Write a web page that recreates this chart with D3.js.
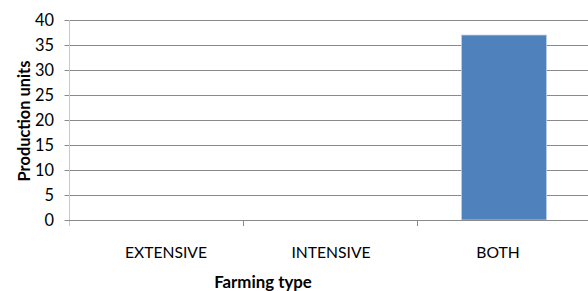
<!DOCTYPE html>
<html><head><meta charset="utf-8">
<script src="https://cdn.jsdelivr.net/npm/d3@7"></script>
<style>body{margin:0;background:#fff}svg{display:block}</style>
</head><body>
<svg id="c" width="588" height="291"></svg>
<script>
const categories = ["EXTENSIVE", "INTENSIVE", "BOTH"];
const values = [0, 0, 37];
const yTicks = [0, 5, 10, 15, 20, 25, 30, 35, 40];

const svg = d3.select("#c");
const font = "Lato, 'Open Sans', sans-serif";
const m = {left: 69, top: 20, bottom: 220, right: 591};

// scale a text's font-size so that its rendered width matches a target width
function fitSize(str, target, weight) {
  const t = svg.append("text").attr("font-family", font).attr("font-size", 20)
    .attr("font-weight", weight || "normal").text(str);
  const w = t.node().getBBox().width;
  t.remove();
  return 20 * target / w;
}

const x = d3.scaleBand().domain(categories).range([m.left, m.right]).paddingInner(0.51).paddingOuter(0.255);
const xb = d3.scaleBand().domain(categories).range([m.left, m.right]);
const y = d3.scaleLinear().domain([0, 40]).range([m.bottom, m.top]);

// gridlines
svg.append("g").selectAll("line").data(yTicks.filter(d => d > 0)).join("line")
  .attr("x1", m.left).attr("x2", 588)
  .attr("y1", d => Math.round(y(d)) + 0.5).attr("y2", d => Math.round(y(d)) + 0.5)
  .attr("stroke", "#8a8a8a").attr("stroke-width", 1);

// bars
svg.append("g").selectAll("rect").data(values).join("rect")
  .attr("x", (d, i) => x(categories[i]))
  .attr("width", x.bandwidth())
  .attr("y", d => y(d))
  .attr("height", d => y(0) - y(d))
  .attr("fill", "#4f81bd")
  .attr("stroke", "#c6d5ea").attr("stroke-width", 0.8);

// y axis
const tickSize = fitSize("40", 19);
const ya = svg.append("g").attr("transform", `translate(${m.left + 0.5},0)`)
  .call(d3.axisLeft(y).tickValues(yTicks).tickSize(5).tickPadding(10));
ya.select(".domain").remove();
ya.selectAll(".tick line").attr("stroke", "#8a8a8a");
ya.selectAll("text").attr("font-family", font).attr("font-size", tickSize).attr("fill", "#000")
  .attr("x", -15.5);
svg.append("line").attr("x1", m.left + 0.5).attr("x2", m.left + 0.5)
  .attr("y1", m.top).attr("y2", m.bottom + 6).attr("stroke", "#c8c8c8");

// x axis
svg.append("line").attr("x1", m.left).attr("x2", 588)
  .attr("y1", m.bottom + 0.5).attr("y2", m.bottom + 0.5).attr("stroke", "#8a8a8a");
svg.append("g").selectAll("line").data(categories.slice(1)).join("line")
  .attr("x1", d => Math.round(xb(d)) + 0.5).attr("x2", d => Math.round(xb(d)) + 0.5)
  .attr("y1", m.bottom).attr("y2", m.bottom + 6).attr("stroke", "#8a8a8a");
const catSize = fitSize("EXTENSIVE", 82);
const labelOffsets = [10, 1, -6];
svg.append("g").selectAll("text").data(categories).join("text")
  .attr("x", (d, i) => xb(d) + xb.bandwidth() / 2 + labelOffsets[i])
  .attr("y", 258)
  .attr("text-anchor", "middle")
  .attr("font-family", font).attr("font-size", catSize).attr("fill", "#000")
  .text(d => d);

// titles
svg.append("text").attr("x", 263).attr("y", 288).attr("text-anchor", "middle")
  .attr("font-family", font).attr("font-size", fitSize("Farming type", 98, "bold"))
  .attr("font-weight", "bold").text("Farming type");
svg.append("text").attr("transform", "translate(29.5,121) rotate(-90)").attr("text-anchor", "middle")
  .attr("font-family", font).attr("font-size", fitSize("Production units", 121, "bold"))
  .attr("font-weight", "bold").text("Production units");
</script>
</body></html>
